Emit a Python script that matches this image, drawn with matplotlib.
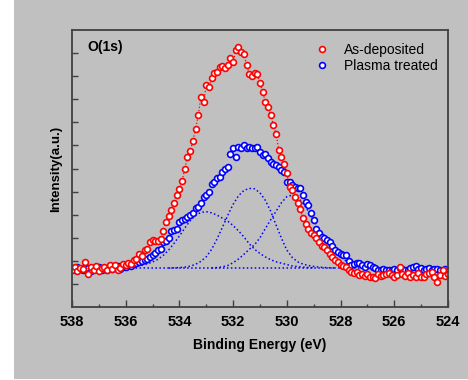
import matplotlib
matplotlib.use('Agg')
import matplotlib.pyplot as plt
from matplotlib.patches import Rectangle
import numpy as np

plt.rcParams['font.family'] = ['Liberation Sans', 'DejaVu Sans']

# binding energy grid of the measured spectra (538 -> 524 eV, 0.1 eV step)
energy = np.linspace(538.0, 524.0, 141)

as_deposited = [
    1.62, 1.75, 1.58, 1.70, 1.64, 1.95, 1.45, 1.72, 1.60, 1.78,
    1.55, 1.68, 1.74, 1.60, 1.80, 1.66, 1.82, 1.62, 1.70, 1.88,
    1.80, 1.92, 1.86, 2.05, 2.10, 2.30, 2.20, 2.45, 2.50, 2.80,
    2.90, 2.85, 2.85, 2.95, 3.30, 3.70, 3.95, 4.20, 4.50, 4.85,
    5.10, 5.45, 6.00, 6.50, 6.75, 7.20, 7.70, 8.30, 9.10, 8.90,
    9.60, 9.55, 9.90, 10.15, 10.20, 10.40, 10.45, 10.35, 10.50, 10.80,
    10.60, 11.15, 11.25, 11.05, 10.95, 10.50, 10.10, 10.00, 10.15, 10.10,
    9.70, 9.30, 8.90, 8.65, 8.30, 7.90, 7.50, 6.80, 6.50, 6.20,
    5.80, 5.20, 5.05, 4.75, 4.50, 4.25, 3.85, 3.60, 3.40, 3.20,
    3.10, 3.00, 2.80, 2.65, 2.60, 2.45, 2.30, 2.15, 2.05, 1.95,
    1.82, 1.78, 1.74, 1.60, 1.53, 1.46, 1.50, 1.40, 1.45, 1.35,
    1.45, 1.30, 1.31, 1.25, 1.42, 1.35, 1.39, 1.45, 1.46, 1.40,
    1.30, 1.38, 1.74, 1.42, 1.35, 1.46, 1.30, 1.40, 1.32, 1.48,
    1.31, 1.30, 1.45, 1.46, 1.50, 1.28, 1.10, 1.40, 1.60, 1.35,
    1.45]

plasma_treated = [
    1.70, 1.62, 1.72, 1.66, 1.60, 1.74, 1.68, 1.58, 1.70, 1.65,
    1.72, 1.62, 1.68, 1.60, 1.70, 1.64, 1.74, 1.78, 1.66, 1.72,
    1.75, 1.80, 1.78, 1.85, 1.90, 1.95, 2.00, 2.05, 2.10, 2.18,
    2.25, 2.32, 2.45, 2.50, 2.83, 2.85, 2.97, 3.30, 3.35, 3.40,
    3.69, 3.77, 3.80, 3.91, 4.00, 4.06, 4.27, 4.35, 4.49, 4.77,
    4.85, 4.99, 5.35, 5.40, 5.60, 5.64, 5.86, 6.00, 6.05, 6.65,
    6.87, 6.51, 6.94, 6.90, 7.01, 6.87, 6.94, 6.87, 6.90, 6.94,
    6.70, 6.58, 6.65, 6.44, 6.29, 6.20, 6.15, 6.07, 5.95, 5.86,
    5.42, 5.42, 5.30, 5.21, 5.15, 5.14, 4.85, 4.55, 4.42, 4.06,
    3.77, 3.40, 3.19, 3.04, 3.00, 2.90, 2.83, 2.65, 2.47, 2.39,
    2.30, 2.25, 2.25, 2.00, 1.82, 1.85, 1.89, 1.90, 1.80, 1.75,
    1.85, 1.82, 1.74, 1.68, 1.62, 1.60, 1.65, 1.60, 1.62, 1.60,
    1.65, 1.60, 1.70, 1.65, 1.60, 1.62, 1.68, 1.74, 1.78, 1.65,
    1.67, 1.60, 1.65, 1.70, 1.62, 1.63, 1.66, 1.60, 1.62, 1.63,
    1.55]

# fitted components of the plasma treated spectrum (0.2 eV step)
baseline = 1.68
c1_energy = np.linspace(536.0, 529.0, 36)
c1 = [1.72, 1.74, 1.77, 1.81, 1.87, 1.95, 2.07, 2.24, 2.47, 2.76,
      3.08, 3.42, 3.74, 3.98, 4.10, 4.13, 4.08, 3.98, 3.85, 3.72,
      3.53, 3.30, 3.04, 2.74, 2.50, 2.32, 2.17, 2.05, 1.96, 1.90,
      1.84, 1.78, 1.75, 1.73, 1.71, 1.70]
c2_energy = np.linspace(534.4, 528.2, 32)
c2 = [1.69, 1.70, 1.71, 1.73, 1.77, 1.85, 1.98, 2.18, 2.50, 2.95,
      3.45, 3.97, 4.45, 4.82, 5.05, 5.14, 5.12, 4.95, 4.62, 4.15,
      3.55, 2.98, 2.47, 2.15, 1.96, 1.86, 1.80, 1.76, 1.73, 1.71,
      1.70, 1.69]
c3_energy = np.linspace(532.8, 526.8, 31)
c3 = [1.69, 1.71, 1.74, 1.80, 1.92, 2.08, 2.28, 2.50, 2.70, 3.00,
      3.40, 3.78, 4.15, 4.52, 4.78, 4.85, 4.75, 4.50, 4.15, 3.75,
      3.35, 3.00, 2.72, 2.45, 2.20, 2.00, 1.88, 1.80, 1.75, 1.72,
      1.70]

x_ticks = [538, 536, 534, 532, 530, 528, 526, 524]

bg = '#c0c0c0'
fig = plt.figure(figsize=(4.68, 3.8), dpi=100, facecolor='white')
# gray panel, leaving a thin white strip at left and bottom
fig.patches.append(Rectangle((14 / 468, 1 / 380), 1, 1, transform=fig.transFigure,
                             facecolor=bg, edgecolor='none', zorder=-10))
ax = fig.add_axes([0.154, 0.192, 0.803, 0.729], facecolor=bg)
ax.set_zorder(1)

dots = (0, (1, 1.6))
ax.hlines(baseline, 538, 524, colors='#0000ff', linestyles=dots, lw=1.1)
for e, c in [(c1_energy, c1), (c2_energy, c2), (c3_energy, c3)]:
    ax.plot(e, c, color='#0000ff', ls=dots, lw=1.1)

ax.plot(energy, plasma_treated, 'o', ms=4.2, mfc='white', mec='#0000ff',
        mew=1.2, label='Plasma treated')
ax.plot(energy, as_deposited, color='#ff0000', ls=dots, lw=0.9)
ax.plot(energy, as_deposited, 'o', ms=4.2, mfc='white', mec='#ff0000',
        mew=1.2, label='As-deposited')

ax.set_xlim(538, 524)
ax.set_ylim(0, 12)
ax.set_xticks(x_ticks)
ax.set_xticks(np.arange(524, 539, 1), minor=True)
ax.set_yticks(np.arange(1, 12))
ax.set_yticklabels([])
ax.tick_params(axis='x', which='major', direction='in', length=5, width=1,
               color='#404040', labelsize=10.5, pad=6)
ax.tick_params(axis='x', which='minor', direction='in', length=2.5, width=1,
               color='#404040')
ax.tick_params(axis='y', direction='in', length=4.5, width=1, color='#404040')
for lab in ax.get_xticklabels():
    lab.set_fontweight('bold')
for s in ax.spines.values():
    s.set_color('#404040')
    s.set_linewidth(1.3)

ax.set_xlabel('Binding Energy (eV)', fontsize=10, fontweight='bold', labelpad=6)
ax.set_ylabel('Intensity(a.u.)', fontsize=9.5, fontweight='bold', labelpad=4)
ax.text(0.04, 0.94, 'O(1s)', transform=ax.transAxes, fontsize=10,
        fontweight='bold', va='center')

h, l = ax.get_legend_handles_labels()
ax.legend(h[::-1], l[::-1], loc='upper left', bbox_to_anchor=(0.61, 1.0),
          frameon=False, fontsize=10, handlelength=1.2, handletextpad=1.0,
          labelspacing=0.15, markerscale=1.0)

fig.savefig('out.png', dpi=100, facecolor='white')
